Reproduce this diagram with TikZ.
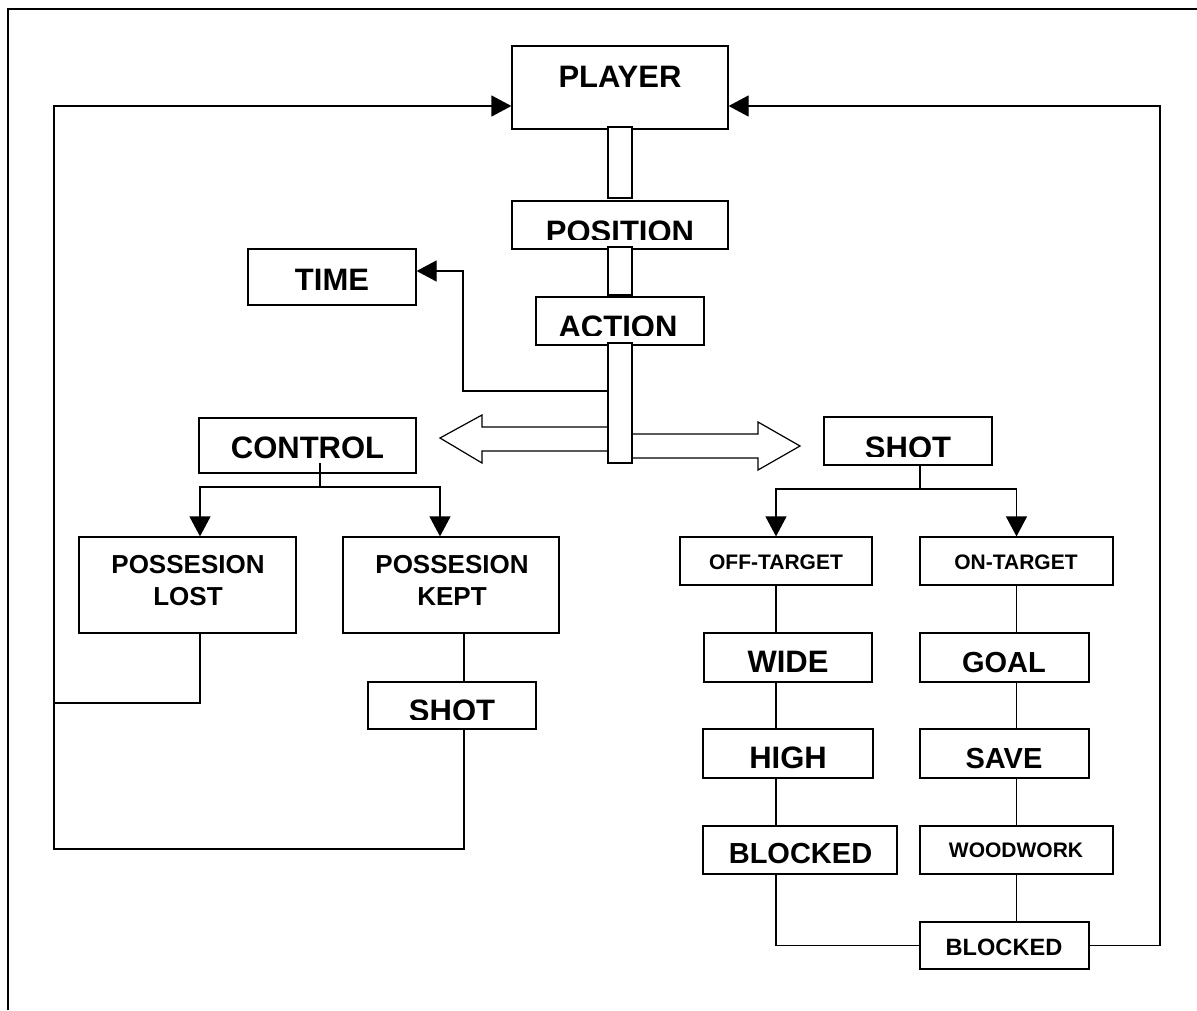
\documentclass[tikz,border=0pt]{standalone}
\usepackage{fontspec}
\setmainfont{Liberation Sans}
\usetikzlibrary{arrows.meta}
\begin{document}
\begin{tikzpicture}[x=1pt,y=-1pt,
  box/.style={draw, line width=1.2pt, fill=white, inner sep=0pt, rectangle},
  conn/.style={draw, line width=1.2pt, fill=white, inner sep=0pt, rectangle, minimum width=24pt},
  lbl/.style={inner sep=0pt, anchor=base, font=\bfseries\fontsize{31}{37}\selectfont},
  lblmid/.style={inner sep=0pt, anchor=base, font=\bfseries\fontsize{26}{32}\selectfont},
  lblsmall/.style={inner sep=0pt, anchor=base, font=\bfseries\fontsize{21}{25}\selectfont},
  line/.style={line width=1.2pt},
  arr/.style={line width=1.2pt, -{Triangle[length=20pt,width=21pt]}},
  hollow/.style={draw, line width=1.2pt, fill=white, line join=miter},
  frame/.style={line width=1.4pt}]
\useasboundingbox (0,0) rectangle (1197,1010);
\draw[frame] (8,1010) -- (8,9) -- (1197,9);

% coordinates for free ends
\coordinate (loopL) at (54,106);
\coordinate (loopB) at (54,849);
\coordinate (loopM) at (54,703);
\coordinate (loopR) at (1160,106);
\coordinate (timeJ) at (463,271);
\coordinate (ctlS) at (320,463);
\coordinate (ctlJ) at (320,487);
\coordinate (shotJ) at (920,489);

% top stack
\node[box, minimum width=216pt, minimum height=83pt] (player) at (620,87.5) {};
\node[lbl] (playerT) at (620,87) {PLAYER};
\node[conn, minimum height=71pt] (c1) at (620,162.5) {};
\node[box, minimum width=216pt, minimum height=48pt] (position) at (620,225) {};
\begin{scope}
  \clip (512,201) rectangle (728,239);
  \node[lbl] (positionT) at (620,242) {POSITION};
\end{scope}
\node[conn, minimum height=48pt] (c2) at (620,271) {};
\node[box, minimum width=168pt, minimum height=48pt] (action) at (620,321) {};
\begin{scope}
  \clip (536,297) rectangle (704,335);
  \node[lbl] (actionT) at (618,337) {ACTION};
\end{scope}

% hollow arrows
\filldraw[hollow] (440,438) -- (482,415) -- (482,427) -- (608,427) -- (608,451) -- (482,451) -- (482,463) -- cycle;
\filldraw[hollow] (632,434) -- (758,434) -- (758,422) -- (800,446) -- (758,470) -- (758,458) -- (632,458) -- cycle;
\node[conn, minimum height=120pt] (c3) at (620,403) {};

% time
\node[box, minimum width=168pt, minimum height=56pt] (time) at (332,277) {};
\node[lbl] (timeT) at (332,290) {TIME};
\draw[arr] ([yshift=12pt]c3.west) -| (timeJ) -- (time.east |- timeJ);

% control branch
\node[box, minimum width=217pt, minimum height=55pt] (control) at (307.5,445.5) {};
\node[lbl] (controlT) at (307.5,458) {CONTROL};
\node[box, minimum width=217pt, minimum height=96pt] (plost) at (187.5,585) {};
\node[lblmid] (plostA) at (188,573) {POSSESION};
\node[lblmid] (plostB) at (188,605) {LOST};
\node[box, minimum width=216pt, minimum height=96pt] (pkept) at (451,585) {};
\node[lblmid] (pkeptA) at (452,573) {POSSESION};
\node[lblmid] (pkeptB) at (452,605) {KEPT};
\node[box, minimum width=168pt, minimum height=47pt] (shotL) at (452,705.5) {};
\begin{scope}
  \clip (368,682) rectangle (536,719);
  \node[lbl] (shotLT) at (452,721) {SHOT};
\end{scope}
\draw[line] (ctlS) -- (ctlJ);
\draw[arr] (ctlJ) -| ([xshift=12.5pt]plost.north);
\draw[arr] (ctlJ) -| ([xshift=-11pt]pkept.north);
\draw[line] ([xshift=13pt]pkept.south) -- ([xshift=12pt]shotL.north);
\draw[line] ([xshift=12.5pt]plost.south) |- (loopM);
\draw[arr] ([xshift=12pt]shotL.south) |- (loopB) -- (loopL) -- (player.west |- loopL);

% shot branch
\node[box, minimum width=168pt, minimum height=48pt] (shotR) at (908,441) {};
\begin{scope}
  \clip (824,417) rectangle (992,456);
  \node[lbl] (shotRT) at (908,458) {SHOT};
\end{scope}
\node[box, minimum width=192pt, minimum height=48pt] (offt) at (776,561) {};
\node[lblsmall] (offtT) at (776,569) {OFF-TARGET};
\node[box, minimum width=193pt, minimum height=48pt] (ont) at (1016.5,561) {};
\node[lblsmall] (ontT) at (1016,569) {ON-TARGET};
\node[box, minimum width=168pt, minimum height=49pt] (wide) at (788,657.5) {};
\node[lbl] (wideT) at (788,672) {WIDE};
\node[box, minimum width=169pt, minimum height=49pt] (goal) at (1004.5,657.5) {};
\node[lbl, font=\bfseries\fontsize{29}{35}\selectfont] (goalT) at (1004,672) {GOAL};
\node[box, minimum width=170pt, minimum height=49pt] (high) at (788,753.5) {};
\node[lbl] (highT) at (788,768) {HIGH};
\node[box, minimum width=169pt, minimum height=49pt] (save) at (1004.5,753.5) {};
\node[lbl, font=\bfseries\fontsize{29}{35}\selectfont] (saveT) at (1004,768) {SAVE};
\node[box, minimum width=194pt, minimum height=48pt] (blockL) at (800,850) {};
\node[lbl, font=\bfseries\fontsize{29}{35}\selectfont] (blockLT) at (800.5,863) {BLOCKED};
\node[box, minimum width=193pt, minimum height=48pt] (wood) at (1016.5,850) {};
\node[lblsmall] (woodT) at (1016,857) {WOODWORK};
\node[box, minimum width=169pt, minimum height=47pt] (blockR) at (1004.5,945.5) {};
\node[lbl, font=\bfseries\fontsize{23.6}{28}\selectfont] (blockRT) at (1004,955) {BLOCKED};

\draw[line] ([xshift=12pt]shotR.south) -- (shotJ);
\draw[arr] (shotJ) -| (offt.north);
\draw[arr] (shotJ) -| (ont.north);
\draw[line] (offt.south) -- (offt.south |- wide.north);
\draw[line] (wide.south -| offt.south) -- (high.north -| offt.south);
\draw[line] (high.south -| offt.south) -- (blockL.north -| offt.south);
\draw[line] (blockL.south -| offt.south) |- (blockR.west);
\draw[line] (ont.south) -- (ont.south |- goal.north);
\draw[line] (goal.south -| ont.south) -- (save.north -| ont.south);
\draw[line] (save.south -| ont.south) -- (wood.north);
\draw[line] (wood.south) -- (wood.south |- blockR.north);
\draw[arr] (blockR.east) -| (loopR) -- (player.east |- loopR);
\end{tikzpicture}
\end{document}
